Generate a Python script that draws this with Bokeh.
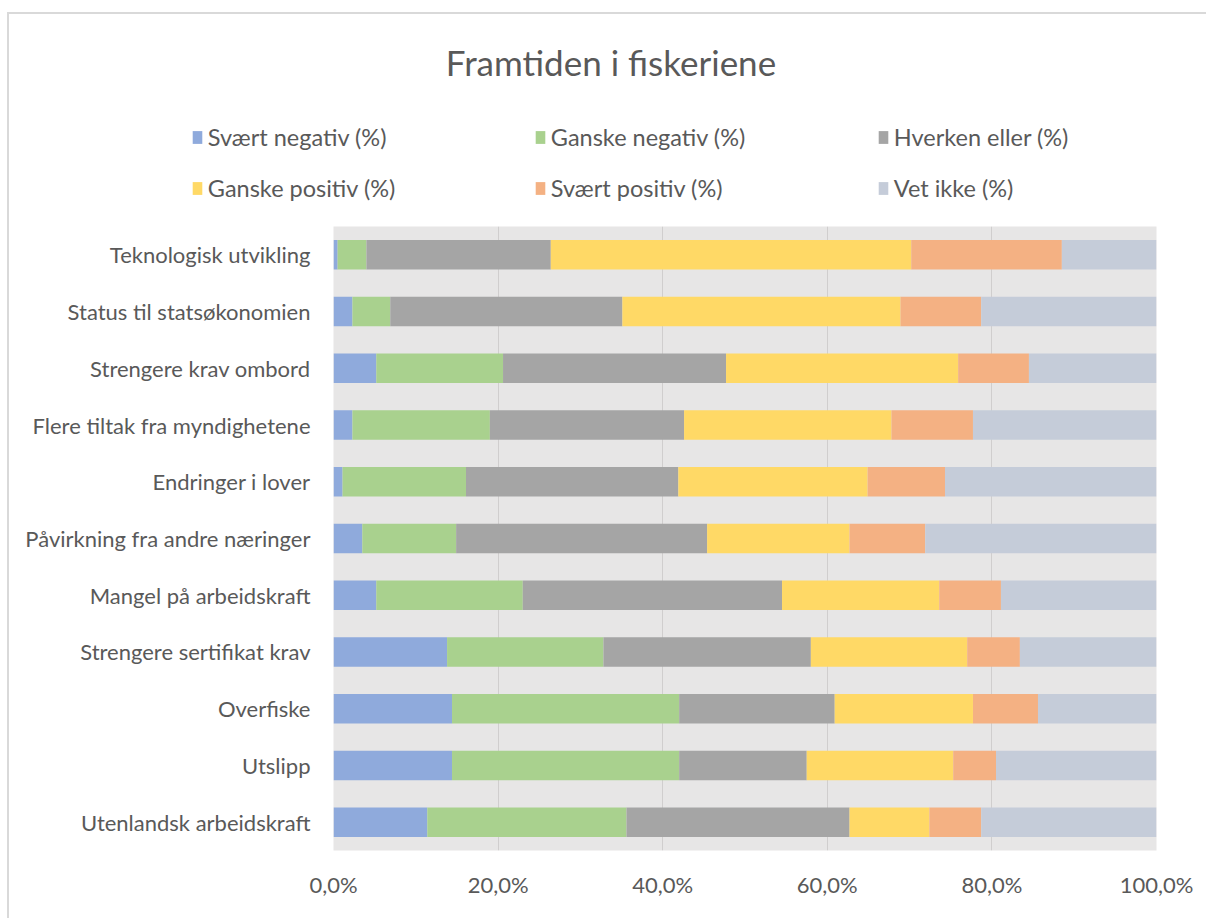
from bokeh.plotting import figure
from bokeh.layouts import column
from bokeh.models import (FactorRange, Range1d, FixedTicker, Legend, LegendItem,
                          Label, ColumnDataSource)
from bokeh.embed import file_html
from bokeh.resources import INLINE
from bokeh.core.properties import value

# ---------------- data ----------------
title_text = "Framtiden i fiskeriene"
categories = [
    "Teknologisk utvikling",
    "Status til statsøkonomien",
    "Strengere krav ombord",
    "Flere tiltak fra myndighetene",
    "Endringer i lover",
    "Påvirkning fra andre næringer",
    "Mangel på arbeidskraft",
    "Strengere sertifikat krav",
    "Overfiske",
    "Utslipp",
    "Utenlandsk arbeidskraft",
]
series_names = ["Svært negativ (%)", "Ganske negativ (%)", "Hverken eller (%)",
                "Ganske positiv (%)", "Svært positiv (%)", "Vet ikke (%)"]
svaert_negativ = [0.5, 2.3, 5.2, 2.3, 1.1, 3.5, 5.2, 13.8, 14.4, 14.4, 11.4]
ganske_negativ = [3.5, 4.6, 15.4, 16.7, 15.0, 11.4, 17.8, 19.0, 27.6, 27.6, 24.2]
hverken_eller = [22.4, 28.2, 27.1, 23.6, 25.8, 30.5, 31.5, 25.2, 18.9, 15.5, 27.1]
ganske_positiv = [43.8, 33.8, 28.2, 25.2, 23.0, 17.3, 19.1, 19.0, 16.8, 17.8, 9.7]
svaert_positiv = [18.3, 9.8, 8.6, 9.9, 9.4, 9.2, 7.5, 6.4, 7.9, 5.2, 6.3]
vet_ikke = [11.5, 21.3, 15.5, 22.3, 25.7, 28.1, 18.9, 16.6, 14.4, 19.5, 21.3]
tick_values = [0, 20, 40, 60, 80, 100]
tick_labels = ["0,0%", "20,0%", "40,0%", "60,0%", "80,0%", "100,0%"]

# ---------------- styles ----------------
colors = ["#8FAADC", "#A9D18E", "#A5A5A5", "#FFD966", "#F4B183", "#C5CCD9"]
txt = "#595959"
font = "Lato"
border = "2px solid #D9D9D9"

W = 1197
HH = 200      # header (title + legend)
HP = 704      # main chart

keys = ["sn", "gn", "he", "gp", "sp", "vi"]
source = ColumnDataSource(dict(cat=categories, sn=svaert_negativ, gn=ganske_negativ,
                               he=hverken_eller, gp=ganske_positiv, sp=svaert_positiv,
                               vi=vet_ikke))

# ---------------- header: title + legend ----------------
header = figure(width=W, height=HH, x_range=Range1d(0, 100),
                y_range=FactorRange(factors=list(reversed(categories))),
                output_backend="svg", toolbar_location=None,
                x_axis_type=None, y_axis_type=None, min_border=0)
header.frame_align = False
header.grid.visible = False
header.outline_line_color = None
header.background_fill_color = "white"
header.border_fill_color = "white"

header.add_layout(Label(x=601.5, y=153, x_units="screen", y_units="screen",
                        text=title_text, text_align="center",
                        text_baseline="middle", text_font=font,
                        text_font_size="35px", text_color=txt))

# legend proxies (hidden copies of the stacked series, only used for the legend)
proxies = header.hbar_stack(keys, y="cat", height=0.52, fill_color=colors,
                            line_color=None, source=source, visible=False)
items = [LegendItem(label=value(n), renderers=[r]) for n, r in zip(series_names, proxies)]
legend = Legend(items=items, location=(181.8, 11.5), orientation="horizontal", ncols=3,
                padding=0, margin=0, spacing=22, label_height=29, label_width=304,
                glyph_height=16, glyph_width=12, label_standoff=5,
                border_line_color=None, background_fill_alpha=0,
                inactive_fill_alpha=0,
                label_text_font=font, label_text_font_size="23.5px",
                label_text_color=txt)
header.add_layout(legend, "center")

# ---------------- main chart ----------------
p = figure(width=W, height=HP,
           y_range=FactorRange(factors=list(reversed(categories))),
           x_range=Range1d(0, 100),
           output_backend="svg", toolbar_location=None,
           min_border_left=324, min_border_right=50,
           min_border_top=12, min_border_bottom=68)
p.frame_align = False
p.background_fill_color = "#E7E6E6"
p.border_fill_color = "white"
p.outline_line_color = None

p.hbar_stack(keys, y="cat", height=0.52, fill_color=colors,
             line_color=None, source=source)

p.xaxis.ticker = FixedTicker(ticks=tick_values)
p.xaxis.major_label_overrides = {v: l for v, l in zip(tick_values, tick_labels)}
p.xgrid.grid_line_color = "#D0CECE"
p.xgrid.grid_line_width = 1
p.ygrid.visible = False

for ax in (p.xaxis[0], p.yaxis[0]):
    ax.axis_line_color = None
    ax.major_tick_line_color = None
    ax.minor_tick_line_color = None
    ax.major_tick_out = 0
    ax.major_tick_in = 0
    ax.major_label_text_color = txt
    ax.major_label_text_font = font
    ax.major_label_text_font_size = "22px"
p.xaxis.major_label_standoff = 20
p.yaxis.major_label_standoff = 23

layout = column(header, p, spacing=0)
layout.styles = {"margin-left": "7px", "margin-top": "12px",
                 "border-top": border, "border-left": border}

open("out.html", "w").write(file_html(layout, INLINE))
